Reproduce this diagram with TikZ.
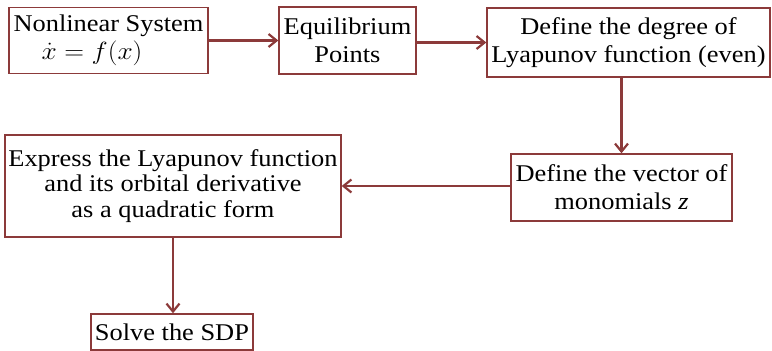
\documentclass[tikz,border=0pt]{standalone}
\usepackage{fontspec}
\setmainfont{Liberation Serif}[FakeStretch=1.1]
\usetikzlibrary{arrows.meta}
\definecolor{boxred}{RGB}{140,58,58}
\tikzset{
  stepbox/.style={draw=boxred, line width=1.4pt, rectangle, inner sep=0pt, align=center,
    font=\fontsize{24}{28}\selectfont},
  flow/.style={draw=boxred, line width=2.4pt, -{Straight Barb[length=8pt,width=13pt,line width=2.2pt]}}
}
\newcommand{\stretchmath}[1]{\scalebox{1.1}[1]{#1}}
\begin{document}
\begin{tikzpicture}[x=1pt,y=-1pt]
\useasboundingbox (0,0) rectangle (772,351);
\node[stepbox, minimum width=199pt, minimum height=66pt, align=left,
  font=\fontsize{24}{28}\selectfont] (b1) at (108.5,40.5)
  {Nonlinear System\\\hspace*{28pt}\stretchmath{$\dot{x} = f(x)$}};
\node[stepbox, minimum width=137pt, minimum height=67pt] (b2) at (347.5,40.5)
  {Equilibrium\\Points};
\node[stepbox, minimum width=283pt, minimum height=69pt] (b3) at (628.5,42.5)
  {Define the degree of\\Lyapunov function (even)};
\node[stepbox, minimum width=221pt, minimum height=67pt] (b4) at (621.5,187.5)
  {Define the vector of\\monomials \textit{z}};
\node[stepbox, minimum width=336pt, minimum height=102pt, font=\fontsize{24}{25.5}\selectfont] (b5) at (173,186)
  {Express the Lyapunov function\\and its orbital derivative\\as a quadratic form};
\node[stepbox, minimum width=162pt, minimum height=36pt] (b6) at (172,332)
  {Solve the SDP};
\draw[flow] (b1.east) -- (b2.west);
\draw[flow] (b3.west -| b2.east) -- (b3.west);
\draw[flow] (b4.north |- b3.south) -- (b4.north);
\draw[flow] (b5.east -| b4.west) -- (b5.east);
\draw[flow] (b5.south) -- (b5.south |- b6.north);
\end{tikzpicture}
\end{document}
